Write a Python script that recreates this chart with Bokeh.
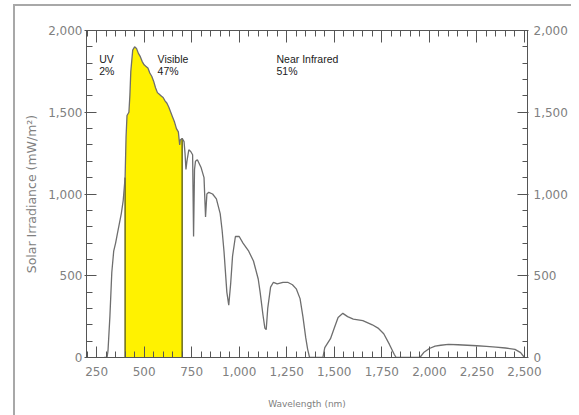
import numpy as np
from bokeh.plotting import figure
from bokeh.models import Range1d, LinearAxis, FixedTicker, NumeralTickFormatter
from bokeh.core.properties import value
from bokeh.embed import file_html
from bokeh.resources import INLINE

# ---- data ----
wavelength = [290, 305, 310, 320, 330, 340, 350, 360, 370, 380, 390, 400, 405, 410, 420, 425, 430, 440,
              450, 460, 470, 480, 490, 500, 510, 520, 530, 540, 550, 560, 570, 580, 590, 600, 610, 620,
              630, 640, 650, 660, 670, 680, 687, 690, 700, 710, 715, 720, 725, 735, 745, 755, 760, 765,
              770, 780, 800, 815, 823, 830, 840, 860, 880, 900, 910, 920, 935, 945, 955, 965, 980, 1000,
              1020, 1050, 1075, 1100, 1110, 1125, 1135, 1142, 1150, 1165, 1180, 1200, 1230, 1255, 1280,
              1300, 1320, 1335, 1350, 1360, 1370, 1440, 1450, 1480, 1500, 1520, 1545, 1570, 1600, 1650,
              1700, 1730, 1760, 1790, 1815, 1825, 1950, 1970, 2000, 2030, 2060, 2100, 2150, 2200, 2250,
              2300, 2350, 2400, 2450, 2480, 2500]
irradiance = [0, 0, 40, 250, 520, 650, 700, 760, 820, 880, 960, 1100, 1350, 1480, 1500, 1600, 1750, 1880,
              1900, 1890, 1860, 1840, 1810, 1790, 1780, 1770, 1740, 1720, 1690, 1650, 1620, 1610, 1600, 1590, 1570, 1555,
              1530, 1500, 1470, 1440, 1400, 1380, 1300, 1330, 1340, 1320, 1250, 1150, 1200, 1270, 1260, 1240, 740, 1150,
              1200, 1210, 1160, 1100, 860, 1000, 1010, 1000, 970, 880, 780, 650, 400, 320, 450, 620, 740, 740,
              700, 650, 590, 480, 400, 260, 180, 170, 300, 430, 460, 450, 460, 460, 445,
              420, 360, 250, 120, 50, 0, 0, 60, 115, 180, 245, 270, 250, 235, 225,
              200, 180, 145, 80, 20, 0, 0, 30, 55, 70, 75, 80, 78, 75, 72,
              68, 64, 58, 50, 30, 0]
x_ticks = [250, 500, 750, 1000, 1250, 1500, 1750, 2000, 2250, 2500]
y_ticks = [0, 500, 1000, 1500, 2000]
visible_band = [400, 700]
band_names = ["UV", "Visible", "Near Infrared"]
band_shares = ["2%", "47%", "51%"]
band_label_x = [264, 571, 1196]

wl = np.array(wavelength, dtype=float)
irr = np.array(irradiance, dtype=float)

p = figure(width=571, height=415, output_backend="svg", toolbar_location=None,
           x_range=Range1d(197, 2516), y_range=Range1d(0, 2000),
           min_border_left=86, min_border_right=44, min_border_top=30, min_border_bottom=58,
           x_axis_location=None, y_axis_location=None)
p.xgrid.visible = False
p.ygrid.visible = False
p.outline_line_color = None
p.background_fill_color = "white"
p.border_fill_color = None

# visible band
mask = (wl >= visible_band[0]) & (wl <= visible_band[1])
p.varea(x=wl[mask], y1=np.zeros(mask.sum()), y2=irr[mask], fill_color="#fff200")
edge_y = [float(np.interp(v, wl, irr)) for v in visible_band]
p.segment(x0=visible_band, y0=[0, 0], x1=visible_band, y1=edge_y, line_color="#6b6b1a", line_width=1.5)

# spectrum line
p.line(wl, irr, line_color="#6e6e6e", line_width=1.3)

# band labels
p.text(x=band_label_x, y=[1823] * 3, text=band_names, text_font=value("Liberation Sans"),
       text_font_size="10.5px", text_color="#1a1a1a", text_baseline="alphabetic")
p.text(x=band_label_x, y=[1755] * 3, text=band_shares, text_font=value("Liberation Sans"),
       text_font_size="10.5px", text_color="#1a1a1a", text_baseline="alphabetic")

x_minor = list(range(200, 2551, 50))
y_minor = list(range(0, 2001, 100))
ax_col = "#555555"
lab_col = "#808080"

def style(ax, label_size="12px", title_size="9px"):
    ax.axis_line_color = ax_col
    ax.major_tick_line_color = ax_col
    ax.minor_tick_line_color = ax_col
    ax.major_label_text_color = lab_col
    ax.major_label_text_font = "DejaVu Sans"
    ax.major_label_text_font_size = label_size
    ax.axis_label_text_font = "DejaVu Sans"
    ax.axis_label_text_font_size = title_size
    ax.axis_label_text_font_style = "normal"
    ax.axis_label_text_color = lab_col

bottom = LinearAxis(ticker=FixedTicker(ticks=x_ticks, minor_ticks=x_minor),
                    formatter=NumeralTickFormatter(format="0,0"), axis_label="Wavelength (nm)")
style(bottom, title_size="9px")
bottom.major_tick_in = 11; bottom.major_tick_out = 0
bottom.minor_tick_in = 6; bottom.minor_tick_out = 0
bottom.major_label_standoff = 9
bottom.axis_label_standoff = 20
p.add_layout(bottom, "below")

top = LinearAxis(ticker=FixedTicker(ticks=x_ticks, minor_ticks=x_minor),
                 major_label_overrides={t: "" for t in x_ticks})
style(top)
top.major_tick_in = 12; top.major_tick_out = 0
top.minor_tick_in = 6; top.minor_tick_out = 0
p.add_layout(top, "above")

left = LinearAxis(ticker=FixedTicker(ticks=y_ticks, minor_ticks=y_minor),
                  formatter=NumeralTickFormatter(format="0,0"), axis_label="Solar Irradiance (mW/m²)")
style(left, title_size="12.5px")
left.major_tick_in = 10; left.major_tick_out = 2
left.minor_tick_in = 6; left.minor_tick_out = 0
left.major_label_standoff = 2
left.axis_label_standoff = 6
p.add_layout(left, "left")

right = LinearAxis(ticker=FixedTicker(ticks=y_ticks, minor_ticks=y_minor),
                   formatter=NumeralTickFormatter(format="0,0"))
style(right)
right.major_tick_in = 10; right.major_tick_out = 1
right.minor_tick_in = 5; right.minor_tick_out = 0
right.major_label_standoff = 5
p.add_layout(right, "right")

# outer frame of the figure (cropped at right and bottom), painted behind the transparent border area
p.styles = {
    "background-color": "white",
    "background-image": "linear-gradient(#a8a8a8, #a8a8a8), linear-gradient(#a8a8a8, #a8a8a8)",
    "background-size": "2px 100%, 100% 2px",
    "background-position": "13px 4px, 13px 4px",
    "background-repeat": "no-repeat",
}

open("out.html", "w").write(file_html(p, INLINE))
